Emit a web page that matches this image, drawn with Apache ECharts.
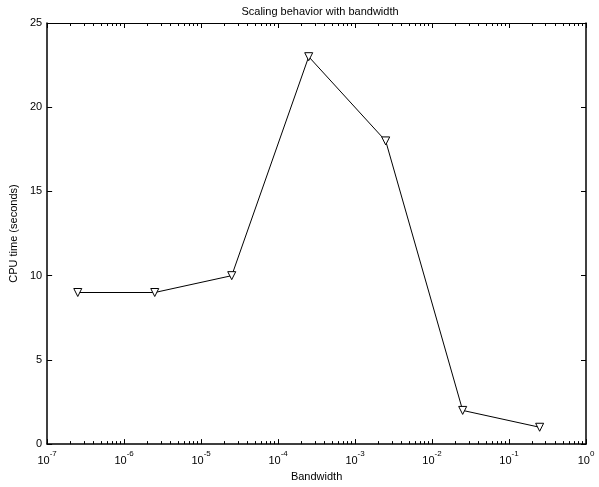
<!DOCTYPE html>
<html>
<head>
<meta charset="utf-8">
<script src="https://cdn.jsdelivr.net/npm/echarts@6/dist/echarts.min.js"></script>
<style>
  html, body { margin: 0; padding: 0; background: #fff; }
  #chart { width: 599px; height: 487px; }
</style>
</head>
<body>
<div id="chart"></div>
<script>
// data
var bandwidth = [2.5e-7, 2.5e-6, 2.5e-5, 2.5e-4, 2.5e-3, 2.5e-2, 2.5e-1];
var cpuTime = [9, 9, 10, 23, 18, 2, 1];
var xMajor = [1e-7, 1e-6, 1e-5, 1e-4, 1e-3, 1e-2, 1e-1, 1];
var yTicks = [0, 5, 10, 15, 20, 25];

// minor log ticks 2..9 in every decade
var xMinor = [];
for (var d = -7; d < 0; d++) {
    for (var k = 2; k <= 9; k++) xMinor.push(k * Math.pow(10, d));
}

var font = 'Liberation Sans, Arial, sans-serif';
var black = '#000';

function logAxis(pos, major, showLabels, showLine, lw) {
    return {
        type: 'log',
        logBase: 10,
        position: pos,
        min: 1e-7,
        max: 1,
        axisLine: { show: showLine, onZero: false, lineStyle: { color: black, width: lw || 1 } },
        axisTick: {
            show: true, inside: true, length: major ? 5 : 3,
            customValues: major ? xMajor : xMinor,
            lineStyle: { color: black, width: 1 }
        },
        axisLabel: {
            show: showLabels,
            customValues: xMajor,
            margin: 6,
            formatter: function (v) {
                var e = Math.round(Math.log10(v));
                return '{b|10}{s|' + e + '}';
            },
            rich: {
                b: { fontFamily: font, fontSize: 11, color: black, lineHeight: 16, verticalAlign: 'bottom' },
                s: { fontFamily: font, fontSize: 8, color: black, lineHeight: 16, verticalAlign: 'top' }
            }
        },
        splitLine: { show: false }
    };
}

var chart = echarts.init(document.getElementById('chart'));
var option = {
    backgroundColor: '#fff',
    animation: false,
    title: {
        text: 'Scaling behavior with bandwidth',
        left: 315, top: 1,
        textAlign: 'center',
        textStyle: { fontFamily: font, fontSize: 11, fontWeight: 'normal', color: black }
    },
    grid: { left: 45, right: 13, top: 23, bottom: 35, containLabel: false },
    xAxis: [
        Object.assign(logAxis('bottom', true, true, true, 1.5), {
            name: 'Bandwidth', nameLocation: 'middle', nameGap: 24,
            nameTextStyle: { fontFamily: font, fontSize: 11, color: black }
        }),
        logAxis('bottom', false, false, false),
        logAxis('top', true, false, true, 1),
        logAxis('top', false, false, false)
    ],
    yAxis: [
        {
            type: 'value', position: 'left', min: 0, max: 25, interval: 5,
            name: 'CPU time (seconds)', nameLocation: 'middle', nameGap: 26, nameRotate: 90,
            nameTextStyle: { fontFamily: font, fontSize: 11, color: black },
            axisLine: { show: true, onZero: false, lineStyle: { color: black, width: 1.5 } },
            axisTick: { show: true, inside: true, length: 5, lineStyle: { color: black } },
            axisLabel: { fontFamily: font, fontSize: 11, color: black, margin: 5 },
            splitLine: { show: false }
        },
        {
            type: 'value', position: 'right', min: 0, max: 25, interval: 5,
            axisLine: { show: true, onZero: false, lineStyle: { color: black, width: 1.5 } },
            axisTick: { show: true, inside: true, length: 5, lineStyle: { color: black } },
            axisLabel: { show: false },
            splitLine: { show: false }
        }
    ],
    series: [{
        type: 'line',
        xAxisIndex: 0,
        yAxisIndex: 0,
        data: bandwidth.map(function (x, i) { return [x, cpuTime[i]]; }),
        symbol: 'triangle',
        symbolRotate: 180,
        symbolSize: 8,
        lineStyle: { color: black, width: 1 },
        itemStyle: { color: '#fff', borderColor: black, borderWidth: 1 }
    }]
};
chart.setOption(option);
</script>
</body>
</html>
